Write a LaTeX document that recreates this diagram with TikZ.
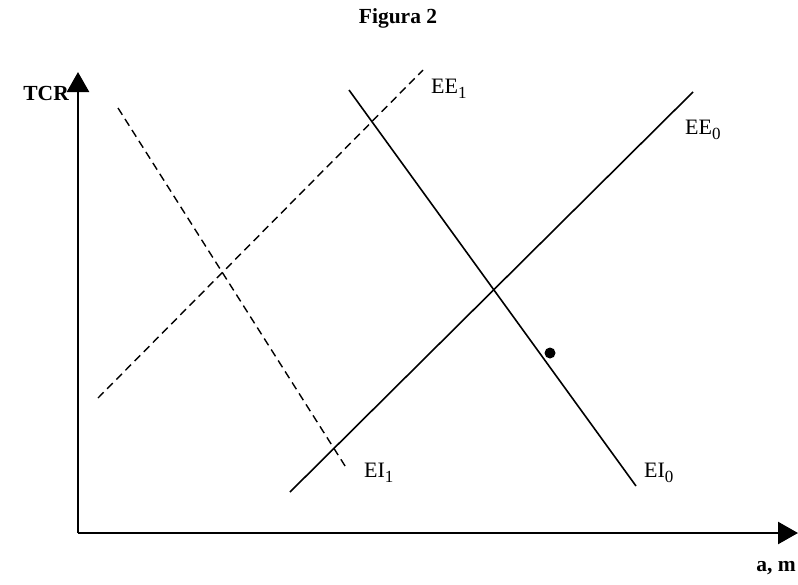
\documentclass[tikz,border=0pt]{standalone}
\usepackage{fontspec}
\setmainfont{Liberation Serif}
\usetikzlibrary{arrows.meta}
\newcommand{\mysub}[1]{\raisebox{-4.5pt}{\fontsize{17}{17}\selectfont #1}}
\begin{document}
\begin{tikzpicture}[x=1pt,y=-1pt,
  axis/.style={line width=2.5pt,-{Triangle[length=20pt,width=22pt]}},
  curve/.style={line width=1.6pt},
  dcurve/.style={line width=1.4pt,dash pattern=on 8pt off 5pt},
  lbl/.style={font=\fontsize{22}{24}\selectfont,inner sep=0pt},
  blbl/.style={font=\fontsize{21.5}{24}\selectfont\bfseries,inner sep=0pt}]
\useasboundingbox (0,0) rectangle (798,584);
% axes
\coordinate (o) at (78,533);
\coordinate (ytop) at (78,72);
\coordinate (xend) at (798,533);
\draw[axis] (o) -- (ytop);
\draw[axis] (o) -- (xend);
% labels
\node[blbl] (title) at (398,18) {Figura 2};
\node[blbl,anchor=east] (tcr) at (69,93) {TCR};
\node[blbl,anchor=east] (am) at (796,568) {a, m};
% lines
\coordinate (ee1a) at (98,398);
\coordinate (ee1b) at (423,70);
\coordinate (ei1a) at (118,108);
\coordinate (ei1b) at (347,469);
\coordinate (ei0a) at (349,90);
\coordinate (ei0b) at (636,486);
\coordinate (ee0a) at (290,492);
\coordinate (ee0b) at (693,92);
\draw[dcurve] (ee1a) -- (ee1b);
\draw[dcurve] (ei1a) -- (ei1b);
\draw[curve] (ei0a) -- (ei0b);
\draw[curve] (ee0a) -- (ee0b);
\node[lbl,anchor=west] (lee1) at (431,89) {EE\mysub{1}};
\node[lbl,anchor=west] (lee0) at (685,130) {EE\mysub{0}};
\node[lbl,anchor=west] (lei1) at (364,473) {EI\mysub{1}};
\node[lbl,anchor=west] (lei0) at (644,473) {EI\mysub{0}};
\fill (550,353) circle (5.5pt) node (dot) {};
\end{tikzpicture}
\end{document}
